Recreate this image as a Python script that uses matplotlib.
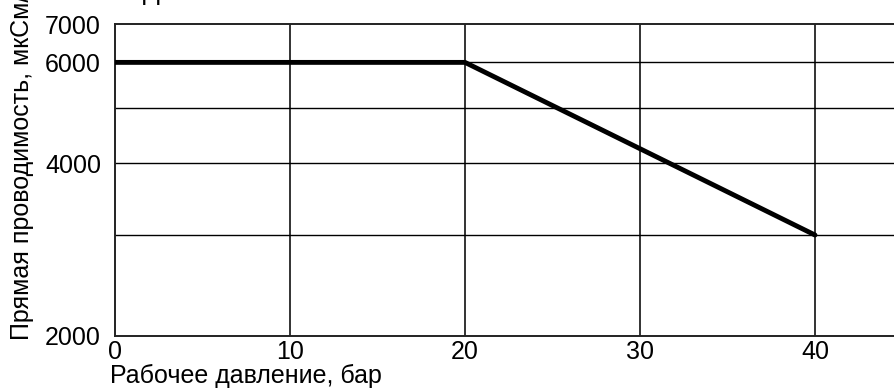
import matplotlib
matplotlib.use("Agg")
import matplotlib.pyplot as plt

# data
pressure = [0, 20, 40]
conductivity = [6000, 6000, 3000]
y_grid = [2000, 3000, 4000, 5000, 6000, 7000]
y_labels = ['2000', '', '4000', '', '6000', '7000']
x_ticks = [0, 10, 20, 30, 40]

plt.rcParams['font.family'] = ['Liberation Sans', 'DejaVu Sans']

fig = plt.figure(figsize=(8.94, 3.9), dpi=100)
ax = fig.add_axes([115 / 894, 54 / 390, 787.5 / 894, 312 / 390])

ax.plot(pressure, conductivity, color='black', lw=3.5, solid_capstyle='round', zorder=3)

ax.set_yscale('log')
ax.set_ylim(2000, 7000)
ax.set_xlim(0, 45)
ax.set_yticks(y_grid)
ax.set_yticklabels(y_labels)
ax.minorticks_off()
ax.set_xticks(x_ticks)
ax.tick_params(length=0, labelsize=18)
ax.tick_params(axis='y', pad=10)
ax.tick_params(axis='x', pad=3)

# gridlines
for x in x_ticks[1:]:
    ax.axvline(x, color='#333333', lw=1.4, zorder=1)
for y in y_grid[1:-1]:
    ax.axhline(y, color='black', lw=1.0, zorder=1)

for s in ['left', 'bottom', 'top']:
    ax.spines[s].set_color('#222222')
    ax.spines[s].set_linewidth(1.4)
ax.spines['right'].set_visible(False)

fig.text(22 / 894, 50 / 390, 'Прямая проводимость, мкСм/см', rotation=90,
         ha='center', va='bottom', fontsize=18)
fig.text(110 / 894, 14 / 390, 'Рабочее давление, бар', ha='left', va='center', fontsize=18)
fig.text(151 / 894, 1.0, 'Д', ha='center', va='baseline', fontsize=18)

fig.savefig('out.png', dpi=100)
